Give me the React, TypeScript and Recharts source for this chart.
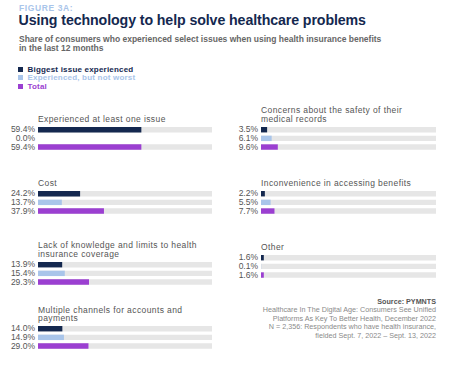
import React from 'react';
import { BarChart, Bar, XAxis, YAxis, Cell } from 'recharts';

const seriesNames = ['Biggest issue experienced', 'Experienced, but not worst', 'Total'];
const seriesColors = ['#14284f', '#a9c5ea', '#9b3fd1'];
const groupTitles = [
  ['Experienced at least one issue'],
  ['Cost'],
  ['Lack of knowledge and limits to health', 'insurance coverage'],
  ['Multiple channels for accounts and', 'payments'],
  ['Concerns about the safety of their', 'medical records'],
  ['Inconvenience in accessing benefits'],
  ['Other'],
];
const biggest = [59.4, 24.2, 13.9, 14.0, 3.5, 2.2, 1.6];
const notWorst = [0.0, 13.7, 15.4, 14.9, 6.1, 5.5, 0.1];
const total = [59.4, 37.9, 29.3, 29.0, 9.6, 7.7, 1.6];
const sourceLines = [
  'Healthcare In The Digital Age: Consumers See Unified',
  'Platforms As Key To Better Health, December 2022',
  'N = 2,356: Respondents who have health insurance,',
  'fielded Sept. 7, 2022 – Sept. 13, 2022',
];

// layout: [left, top, width, yAxisWidth]
const layouts = [
  [0, 125, 212, 38],
  [0, 189, 212, 38],
  [0, 259.6, 212, 38],
  [0, 324, 212, 38],
  [230, 124.7, 206, 31],
  [230, 189, 206, 31],
  [230, 253, 206, 31],
];

const FONT = '"Liberation Sans", Arial, sans-serif';

function Group({ idx }: { idx: number }) {
  const [left, top, width, yw] = layouts[idx];
  const data = [
    { key: 'a', value: biggest[idx] },
    { key: 'b', value: notWorst[idx] },
    { key: 'c', value: total[idx] },
  ];
  const lines = groupTitles[idx];
  const lineH = 8.6;
  const titleTop = top - 1.1 - lines.length * lineH;
  return (
    <>
      <div
        style={{
          position: 'absolute',
          left: left + yw,
          top: titleTop,
          fontFamily: FONT,
          fontSize: 8.5,
          lineHeight: `${lineH}px`,
          color: '#555',
          letterSpacing: 0.4,
          whiteSpace: 'nowrap',
        }}
      >
        {lines.map((l, i) => (
          <div key={i}>{l}</div>
        ))}
      </div>
      <div style={{ position: 'absolute', left, top }}>
        <BarChart
          width={width}
          height={26}
          data={data}
          layout="vertical"
          margin={{ top: 0, right: 0, bottom: 0, left: 0 }}
        >
          <XAxis type="number" domain={[0, 100]} hide />
          <YAxis
            type="category"
            dataKey="key"
            width={yw}
            axisLine={false}
            tickLine={false}
            tickSize={0}
            tickMargin={3}
            tick={{ fontSize: 8.5, fill: '#555', fontFamily: FONT }}
            tickFormatter={(_v: string, i: number) => `${data[i].value.toFixed(1)}%`}
            interval={0}
          />
          <Bar dataKey="value" barSize={5.4} background={{ fill: '#e6e6e6' }} isAnimationActive={false}>
            {data.map((_d, i) => (
              <Cell key={i} fill={seriesColors[i]} />
            ))}
          </Bar>
        </BarChart>
      </div>
    </>
  );
}

export default function App() {
  return (
    <div style={{ position: 'absolute', left: 0, top: 0, width: 461, height: 367, background: '#fff', fontFamily: FONT }}>
      <div style={{ position: 'absolute', left: 19, top: 3, fontSize: 8.5, fontWeight: 700, color: '#a9c5ea', letterSpacing: 0.6 }}>
        FIGURE 3A:
      </div>
      <div style={{ position: 'absolute', left: 18.5, top: 12, fontSize: 14.2, fontWeight: 700, color: '#14284f', whiteSpace: 'nowrap', letterSpacing: -0.1 }}>
        Using technology to help solve healthcare problems
      </div>
      <div style={{ position: 'absolute', left: 19, top: 34.5, fontSize: 8.5, lineHeight: '9px', fontWeight: 700, color: '#666', whiteSpace: 'nowrap' }}>
        <div>Share of consumers who experienced select issues when using health insurance benefits</div>
        <div>in the last 12 months</div>
      </div>
      {seriesNames.map((n, i) => (
        <div key={n} style={{ position: 'absolute', left: 18, top: 64.5 + i * 8.8, height: 9, display: 'flex', alignItems: 'center', whiteSpace: 'nowrap' }}>
          <div style={{ width: 5, height: 5, background: seriesColors[i], marginRight: 4.5 }} />
          <div style={{ fontSize: 8, fontWeight: 700, color: seriesColors[i], letterSpacing: 0.2 }}>{n}</div>
        </div>
      ))}
      {layouts.map((_l, i) => (
        <Group key={i} idx={i} />
      ))}
      <div style={{ position: 'absolute', right: 461 - 436, top: 297.5, textAlign: 'right', fontSize: 7.2, lineHeight: '8.5px', color: '#8a8a8a', whiteSpace: 'nowrap' }}>
        <div style={{ fontWeight: 700, color: '#555' }}>Source: PYMNTS</div>
        {sourceLines.map((l) => (
          <div key={l}>{l}</div>
        ))}
      </div>
    </div>
  );
}
